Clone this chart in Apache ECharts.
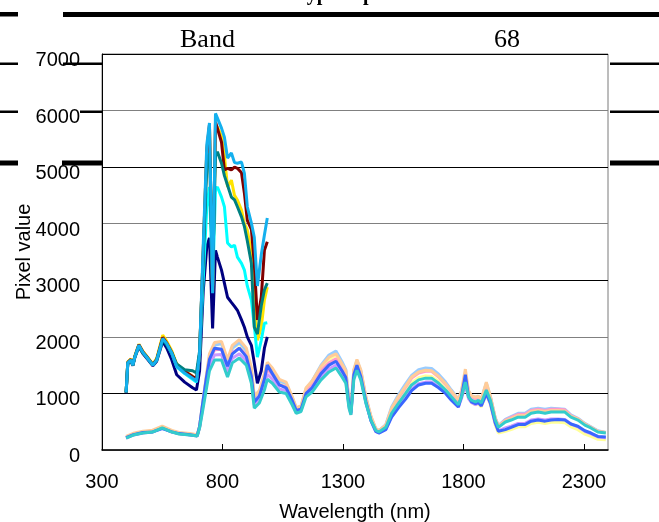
<!DOCTYPE html>
<html>
<head>
<meta charset="utf-8">
<script src="https://cdn.jsdelivr.net/npm/echarts@6/dist/echarts.min.js"></script>
<style>
  html, body { margin: 0; padding: 0; background: #fff; }
  #chart { width: 659px; height: 522px; }
</style>
</head>
<body>
<div id="chart"></div>
<script>
// Wavelength grid (nm) for the short-range (VNIR) spectra
const wavelengthVnir = [400,407,420,428,436,453,469,486,511,527,552,569,589,610,643,676,692,
  705,720,735,746,759,771,779,796,808,821,837,850,862,879,891,903,920,932,945,961,974,986];

// Short-range spectra (pixel values)
const vnirNavy    = [1000,1520,1580,1490,1630,1830,1710,1620,1490,1570,1920,1800,1600,1330,1200,1100,1060,
  1400,2800,3600,3750,2150,3530,3410,3180,2950,2700,2610,2540,2470,2300,2170,2000,1850,1540,1180,1400,1800,2000];
const vnirYellow  = [1020,1560,1610,1510,1660,1870,1750,1660,1520,1620,2030,1920,1760,1520,1400,1300,1250,
  1700,3500,5300,5700,2800,5650,5710,5550,5200,4650,4770,4500,4420,4240,4000,3890,3480,2700,1940,2170,2650,2880];
const vnirCyan    = [1020,1540,1590,1500,1640,1850,1730,1640,1500,1590,1960,1870,1710,1470,1350,1250,1200,
  1700,3000,4300,4650,2900,4600,4650,4470,4300,3660,3590,3620,3410,3300,3180,2900,2650,2200,1640,1940,2240,2250];
const vnirMaroon  = [1020,1550,1600,1500,1650,1860,1740,1650,1510,1600,1990,1890,1730,1500,1390,1300,1260,
  1700,3500,5300,5750,2800,5800,5780,5440,4950,4980,4950,5000,4980,4900,4540,4060,3900,3300,2300,2700,3530,3680];
const vnirTeal    = [1020,1540,1590,1500,1640,1840,1720,1640,1500,1590,1950,1860,1720,1520,1420,1400,1360,
  1750,3400,5000,5250,3130,5200,5270,5070,4850,4680,4470,4420,4300,4120,3950,3700,3300,2170,2050,2550,2830,2950];
const vnirSky     = [1020,1540,1590,1500,1640,1850,1730,1640,1500,1590,1970,1880,1720,1480,1360,1270,1220,
  1700,3600,5400,5780,2770,5950,5970,5690,5530,5160,5250,5080,5070,5090,4890,4300,4010,3760,2900,3450,3800,4100];

// Wavelength grid (nm) for the full-range spectra
const wavelengthFull = [400,430,470,510,550,590,620,665,695,705,717,734,746,767,796,821,841,870,899,920,
  932,953,974,986,1007,1036,1064,1089,1106,1126,1147,1172,1209,1242,1271,1296,1312,1325,1333,1345,
  1358,1374,1395,1416,1436,1449,1478,1502,1531,1560,1585,1614,1643,1668,1697,1726,1750,1779,1792,1808,
  1821,1833,1850,1862,1874,1895,1912,1932,1945,1974,1998,2027,2056,2081,2110,2139,2164,2193,2221,2246,
  2275,2304,2329,2358,2391];

// Full-range spectra (pixel values)
const fullLightYellow = [218,272,306,324,396,322,288,268,250,410,
  780,1300,1640,1860,1880,1560,1800,1880,1740,1380,
  900,1000,1280,1460,1360,1180,1140,900,720,750,
  1060,1180,1450,1600,1680,1500,1380,840,690,1380,
  1560,1380,910,570,360,320,400,680,860,1040,
  1190,1280,1310,1300,1210,1080,950,800,930,1200,
  920,840,800,820,760,980,800,440,300,330,
  360,410,410,470,490,470,490,490,480,410,
  360,280,240,190,180];
const fullPaleBlue = [225,280,315,335,405,330,300,280,260,410,
  780,1300,1650,1850,1880,1560,1800,1900,1760,1400,
  920,1020,1300,1500,1400,1220,1180,930,740,770,
  1080,1220,1500,1680,1750,1560,1420,860,700,1400,
  1580,1400,930,590,380,340,450,760,980,1170,
  1320,1420,1450,1440,1340,1200,1060,900,1040,1350,
  1040,960,930,950,900,1180,940,570,430,540,
  590,650,650,720,740,720,740,730,720,620,
  560,470,410,340,310];
const fullRose = [215,270,305,325,395,322,290,270,252,400,
  740,1230,1560,1770,1780,1470,1720,1800,1680,1340,
  870,960,1230,1430,1330,1150,1120,890,720,750,
  1040,1150,1400,1540,1610,1440,1320,820,670,1350,
  1530,1350,900,570,370,335,430,720,930,1110,
  1270,1360,1390,1390,1290,1160,1030,870,1020,1300,
  1010,940,910,930,880,1140,930,560,420,530,
  575,630,630,700,720,700,720,720,710,610,
  550,460,400,330,305];
const fullLavender = [212,266,302,320,390,318,285,266,248,400,
  720,1180,1480,1680,1690,1380,1620,1700,1580,1250,
  800,890,1140,1340,1250,1080,1050,830,670,700,
  980,1070,1290,1430,1500,1340,1230,770,630,1280,
  1450,1270,840,520,330,300,370,600,770,930,
  1080,1170,1200,1200,1120,1010,890,760,910,1150,
  910,840,800,830,780,990,820,470,340,390,
  420,470,470,530,550,530,550,550,540,460,
  410,330,290,230,215];
const fullPeach = [240,295,330,350,420,345,310,290,270,420,
  800,1350,1700,1900,1920,1600,1850,1950,1800,1450,
  950,1050,1350,1550,1450,1250,1200,950,750,780,
  1100,1220,1480,1640,1700,1520,1400,850,700,1420,
  1600,1420,950,600,380,340,440,740,950,1130,
  1290,1380,1410,1400,1300,1170,1040,890,1050,1430,
  1050,960,930,950,900,1200,950,560,420,520,
  560,610,610,680,700,680,700,700,690,600,
  550,460,400,330,310];
const fullBlue = [220,270,310,320,380,320,290,270,250,420,
  800,1300,1600,1800,1780,1480,1700,1800,1650,1300,
  850,950,1250,1500,1350,1150,1100,880,700,720,
  1000,1100,1350,1500,1570,1400,1280,800,650,1330,
  1500,1300,860,520,330,300,360,580,750,900,
  1050,1150,1180,1180,1100,1000,880,760,950,1330,
  950,850,820,840,780,1000,830,480,330,360,
  400,450,450,510,530,510,530,540,530,460,
  420,340,300,240,230];
const fullAqua = [210,265,300,318,390,318,283,265,247,390,
  670,1100,1400,1590,1590,1290,1540,1625,1500,1180,
  740,830,1060,1250,1180,1025,1000,800,650,680,
  940,1025,1240,1380,1450,1290,1180,740,620,1240,
  1410,1240,830,530,350,318,400,650,830,1000,
  1150,1240,1270,1270,1180,1060,940,800,940,1200,
  940,880,850,880,830,1060,880,530,400,495,
  530,580,580,650,670,650,670,670,670,580,
  530,440,390,318,300];

// Axis settings
const xTicks = { min: 300, max: 2400, step: 500 };
const yTicks = { min: 0, max: 7000, step: 1000 };

const sansFont = "'Liberation Sans', Arial, sans-serif";
const serifFont = "'Liberation Serif', 'Times New Roman', serif";

const spectra = [
  { x: wavelengthVnir, y: vnirNavy,   color: '#000080' },
  { x: wavelengthVnir, y: vnirYellow, color: '#FFE400' },
  { x: wavelengthVnir, y: vnirCyan,   color: '#00FFFF' },
  { x: wavelengthVnir, y: vnirMaroon, color: '#800000' },
  { x: wavelengthVnir, y: vnirTeal,   color: '#008080' },
  { x: wavelengthVnir, y: vnirSky,    color: '#14B0EE' },
  { x: wavelengthFull, y: fullLightYellow, color: '#FFFF99' },
  { x: wavelengthFull, y: fullPaleBlue,    color: '#99CCFF' },
  { x: wavelengthFull, y: fullRose,        color: '#FF99CC' },
  { x: wavelengthFull, y: fullLavender,    color: '#CC99FF' },
  { x: wavelengthFull, y: fullPeach,       color: '#FFCC99' },
  { x: wavelengthFull, y: fullBlue,        color: '#3A66FF' },
  { x: wavelengthFull, y: fullAqua,        color: '#33CCCC' }
];

// Ruled lines of the surrounding table, outside the plot frame
function rule(x, y, w, h) {
  return { type: 'rect', z: 50, silent: true, shape: { x, y, width: w, height: h }, style: { fill: '#000' } };
}

const plain = v => String(v);

const chart = echarts.init(document.getElementById('chart'), null, { renderer: 'canvas' });
chart.setOption({
  animation: false,
  backgroundColor: '#fff',
  grid: {
    left: 102, right: 51, top: 54, bottom: 72,
    outerBoundsMode: 'none', containLabel: false,
    show: true, backgroundColor: '#fff', borderColor: '#7a7a7a', borderWidth: 1
  },
  xAxis: {
    type: 'value',
    min: xTicks.min, max: xTicks.max, interval: xTicks.step,
    name: 'Wavelength (nm)', nameLocation: 'middle', nameGap: 52,
    nameTextStyle: { fontFamily: sansFont, fontSize: 20, color: '#000' },
    axisLine: { show: true, lineStyle: { color: '#000', width: 1.5 } },
    axisTick: { show: true, inside: true, length: 6, lineStyle: { color: '#000', width: 1 } },
    axisLabel: { fontFamily: sansFont, fontSize: 20, color: '#000', margin: 22, showMaxLabel: false, formatter: plain },
    splitLine: { show: false }
  },
  yAxis: {
    type: 'value',
    min: yTicks.min, max: yTicks.max, interval: yTicks.step,
    name: 'Pixel value', nameLocation: 'middle', nameGap: 68, nameRotate: 90, nameMoveOverlap: false,
    nameTextStyle: { fontFamily: sansFont, fontSize: 20, color: '#000' },
    axisLine: { show: true, lineStyle: { color: '#000', width: 1 } },
    axisTick: { show: false },
    axisLabel: { fontFamily: sansFont, fontSize: 20, color: '#000', margin: 22,
      verticalAlign: 'top', lineHeight: 13, formatter: plain },
    splitLine: { show: true, lineStyle: { color: ['#808080', '#000000'], width: 1 } }
  },
  series: spectra.map(s => ({
    type: 'line',
    data: s.x.map((w, i) => [w, s.y[i]]),
    showSymbol: false,
    symbol: 'none',
    lineStyle: { color: s.color, width: 3 },
    itemStyle: { color: s.color },
    silent: true
  })),
  graphic: [
    rule(0, 12, 18, 4.5),
    rule(63, 12, 596, 5),
    rule(0, 62.5, 18, 2.5),
    rule(63, 62.5, 39, 2.5),
    rule(610, 62.5, 49, 2.5),
    rule(0, 110.5, 18, 2.5),
    rule(80, 110.5, 22, 2.5),
    rule(610, 110.5, 49, 2.5),
    rule(0, 160.5, 18, 5),
    rule(62, 160.5, 40, 5),
    rule(610, 160.5, 49, 5),
    { type: 'text', z: 50, silent: true, left: 180, top: 27,
      style: { text: 'Band', font: '26px ' + serifFont, fill: '#000' } },
    { type: 'text', z: 50, silent: true, left: 494, top: 27,
      style: { text: '68', font: '26px ' + serifFont, fill: '#000' } },
    { type: 'text', z: 50, silent: true, left: 295, top: -15,
      style: { text: 'Typical pixel', font: 'bold 20px ' + serifFont, fill: '#000' } }
  ]
});
</script>
</body>
</html>
